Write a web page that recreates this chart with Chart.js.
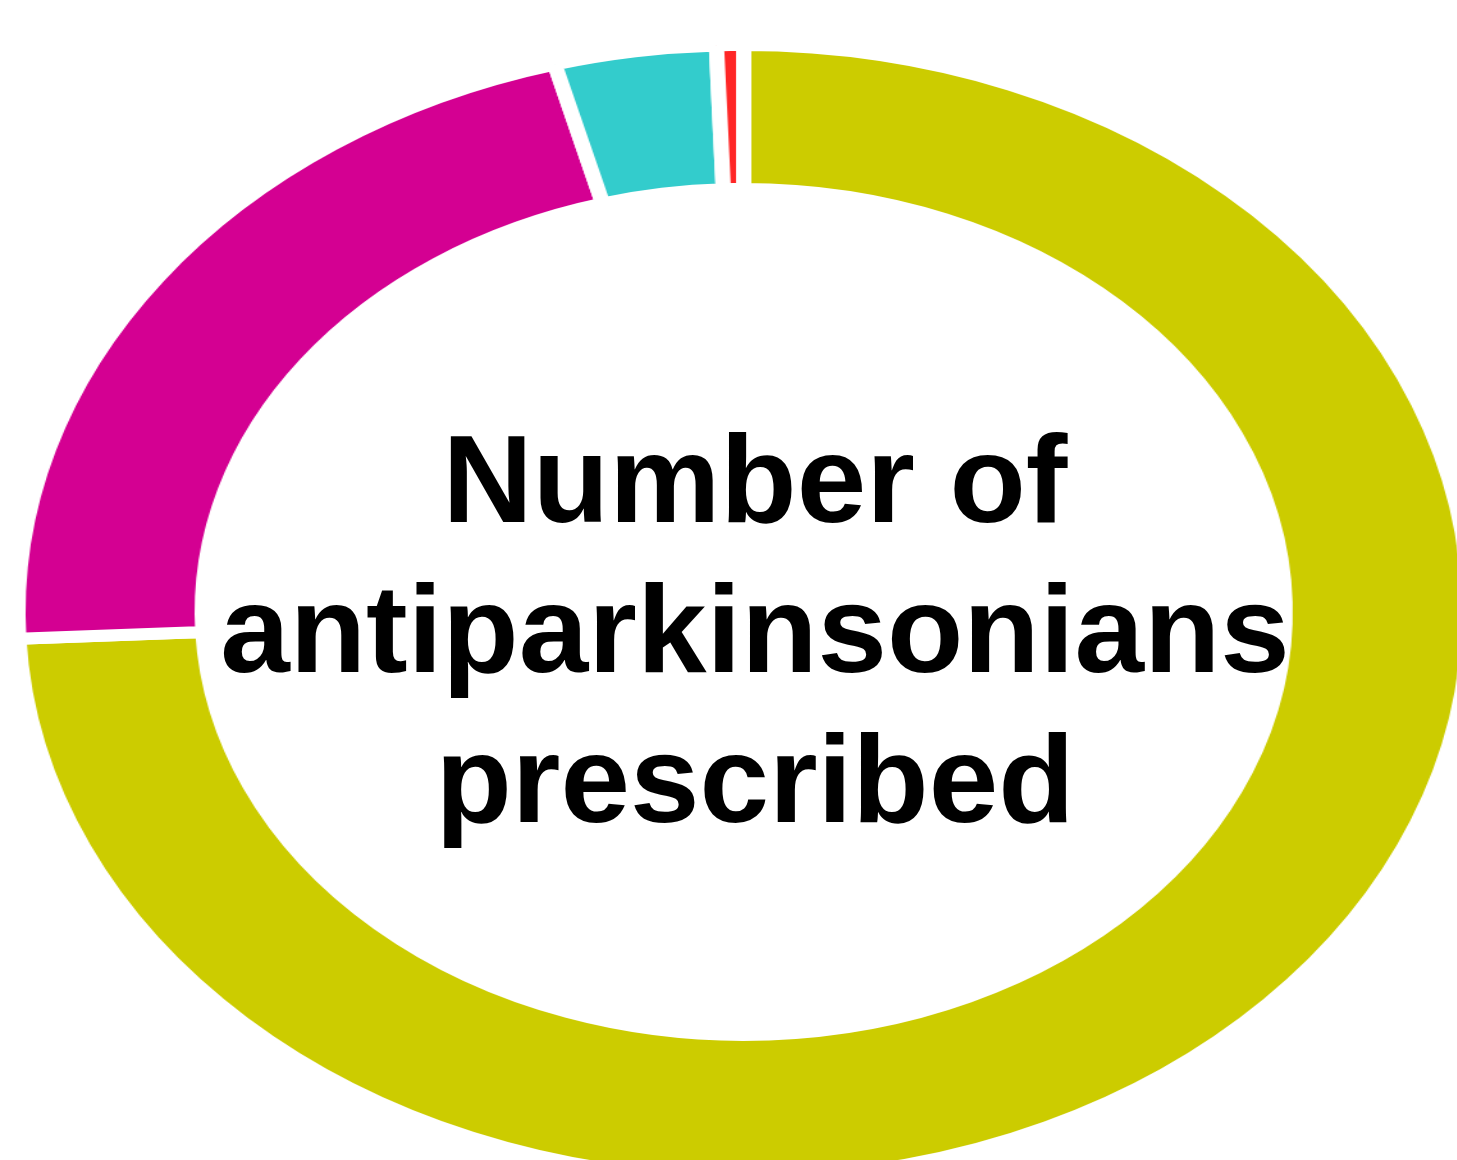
<!DOCTYPE html>
<html>
<head>
<meta charset="utf-8">
<script src="https://cdn.jsdelivr.net/npm/chart.js@4/dist/chart.umd.min.js"></script>
<style>
  html, body { margin: 0; padding: 0; background: #ffffff; overflow: hidden; width: 1457px; height: 1160px; }
  #wrap { position: absolute; left: 0; top: 0; width: 1162px; height: 1224px; transform: scaleX(1.28); transform-origin: 0 0; }
  #centerText { position: absolute; left: 0; width: 1510px; top: 404px; text-align: center;
    font-family: "Liberation Sans", Arial, sans-serif; font-weight: bold; font-size: 125px; line-height: 150px; color: #000; }
</style>
</head>
<body>
<div id="wrap"><canvas id="c" width="1162" height="1224"></canvas></div>
<div id="centerText">Number of<br>antiparkinsonians<br>prescribed</div>
<script>
const categories = ["0", "1", "2", "3"];
const counts = [124, 36, 6, 1];
const sliceColors = ["#cccc00", "#d40092", "#33cccc", "#ff2626"];

new Chart(document.getElementById("c"), {
  type: "doughnut",
  data: {
    labels: categories,
    datasets: [{
      data: counts,
      backgroundColor: sliceColors,
      borderColor: "#ffffff",
      borderWidth: 12,
      hoverOffset: 0
    }]
  },
  options: {
    responsive: false,
    devicePixelRatio: 1,
    animation: false,
    events: [],
    radius: 567,
    cutout: "74.6%",
    rotation: 0,
    layout: { padding: 0 },
    plugins: {
      legend: { display: false },
      tooltip: { enabled: false },
      title: { display: false }
    }
  }
});
</script>
</body>
</html>
